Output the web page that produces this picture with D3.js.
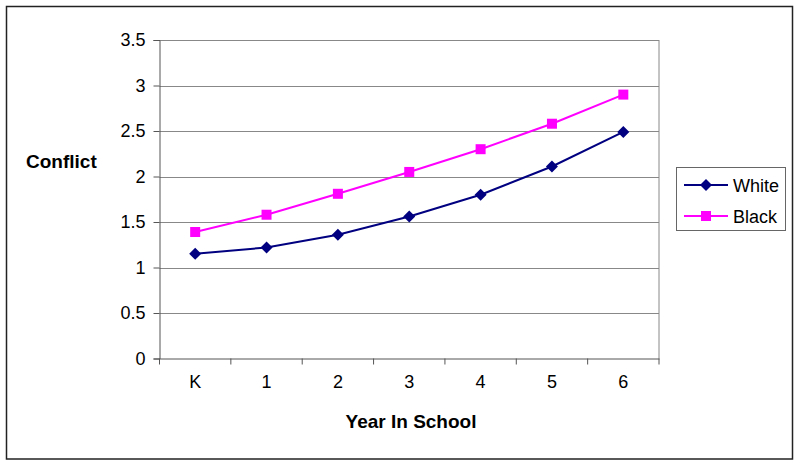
<!DOCTYPE html>
<html>
<head>
<meta charset="utf-8">
<script src="https://cdn.jsdelivr.net/npm/d3@7"></script>
<style>
  body { margin: 0; background: #fff; }
  text { font-family: "Liberation Sans", Arial, sans-serif; fill: #000; }
</style>
</head>
<body>
<svg id="chart" width="800" height="466"></svg>
<script>
var years = ["K", "1", "2", "3", "4", "5", "6"];
var white = [1.15, 1.22, 1.36, 1.56, 1.80, 2.11, 2.49];
var black = [1.39, 1.58, 1.81, 2.05, 2.30, 2.58, 2.90];
var yTicks = [0, 0.5, 1, 1.5, 2, 2.5, 3, 3.5];

var svg = d3.select("#chart");

// outer frame
svg.append("rect")
  .attr("x", 6.5).attr("y", 6.5)
  .attr("width", 786).attr("height", 452.5)
  .attr("fill", "none").attr("stroke", "#222").attr("stroke-width", 1.5);

var plotLeft = 159.5, plotRight = 659, plotTop = 40, plotBottom = 358.5;

var x = d3.scaleBand().domain(years).range([plotLeft, plotRight]);
var y = d3.scaleLinear().domain([0, 3.5]).range([plotBottom, plotTop]);

// gridlines
svg.append("g").selectAll("line")
  .data(yTicks.filter(function(d){ return d > 0; }))
  .enter().append("line")
  .attr("x1", plotLeft).attr("x2", plotRight)
  .attr("y1", function(d){ return Math.round(y(d)) + 0.5; })
  .attr("y2", function(d){ return Math.round(y(d)) + 0.5; })
  .attr("stroke", "#888").attr("stroke-width", 1);

// right border of plot area
svg.append("line")
  .attr("x1", plotRight).attr("x2", plotRight)
  .attr("y1", plotTop).attr("y2", plotBottom)
  .attr("stroke", "#888");

// y axis
var yAxis = svg.append("g")
  .attr("transform", "translate(" + plotLeft + ",0)")
  .call(d3.axisLeft(y).tickValues(yTicks).tickSize(6).tickPadding(8)
    .tickFormat(function(d){ return String(d); }));
yAxis.selectAll("path, line").attr("stroke", "#555");
yAxis.selectAll("text").style("font-size", "18px").attr("fill", "#000");

// x axis
var xAxis = svg.append("g")
  .attr("transform", "translate(0," + plotBottom + ")")
  .call(d3.axisBottom(x).tickSize(0).tickPadding(17));
xAxis.select("path").attr("stroke", "#555");
xAxis.selectAll("text").style("font-size", "18px").attr("fill", "#000");
// ticks between categories
svg.append("g").selectAll("line")
  .data(d3.range(years.length + 1))
  .enter().append("line")
  .attr("x1", function(i){ return plotLeft + i * x.step(); })
  .attr("x2", function(i){ return plotLeft + i * x.step(); })
  .attr("y1", plotBottom).attr("y2", plotBottom + 6)
  .attr("stroke", "#555");

// axis titles
svg.append("text")
  .attr("x", 26).attr("y", 168)
  .style("font-size", "19px").style("font-weight", "bold")
  .text("Conflict");
svg.append("text")
  .attr("x", 411).attr("y", 428).attr("text-anchor", "middle")
  .style("font-size", "19px").style("font-weight", "bold")
  .text("Year In School");

var cx = function(i){ return x(years[i]) + x.bandwidth() / 2; };
var line = d3.line()
  .x(function(d, i){ return cx(i); })
  .y(function(d){ return y(d); });

var series = [
  { name: "White", values: white, color: "#000080", marker: "diamond" },
  { name: "Black", values: black, color: "#FF00FF", marker: "square" }
];

var drawMarker = function(g, s, px, py) {
  if (s.marker === "diamond") {
    g.append("path")
      .attr("d", "M" + px + "," + (py - 6) + "L" + (px + 6) + "," + py +
                 "L" + px + "," + (py + 6) + "L" + (px - 6) + "," + py + "Z")
      .attr("fill", s.color);
  } else {
    g.append("rect")
      .attr("x", px - 5).attr("y", py - 5)
      .attr("width", 10).attr("height", 10)
      .attr("fill", s.color);
  }
};

series.forEach(function(s){
  svg.append("path")
    .datum(s.values)
    .attr("d", line)
    .attr("fill", "none")
    .attr("stroke", s.color)
    .attr("stroke-width", 2);
  var g = svg.append("g");
  s.values.forEach(function(v, i){ drawMarker(g, s, cx(i), y(v)); });
});

// legend
var legend = svg.append("g");
legend.append("rect")
  .attr("x", 676.5).attr("y", 167.5)
  .attr("width", 109).attr("height", 63)
  .attr("fill", "#fff").attr("stroke", "#666");
series.forEach(function(s, i){
  var ly = 185 + i * 31;
  legend.append("line")
    .attr("x1", 684).attr("x2", 728)
    .attr("y1", ly).attr("y2", ly)
    .attr("stroke", s.color).attr("stroke-width", 2);
  drawMarker(legend, s, 706, ly);
  legend.append("text")
    .attr("x", 733).attr("y", ly + 7)
    .style("font-size", "18px")
    .text(s.name);
});
</script>
</body>
</html>
